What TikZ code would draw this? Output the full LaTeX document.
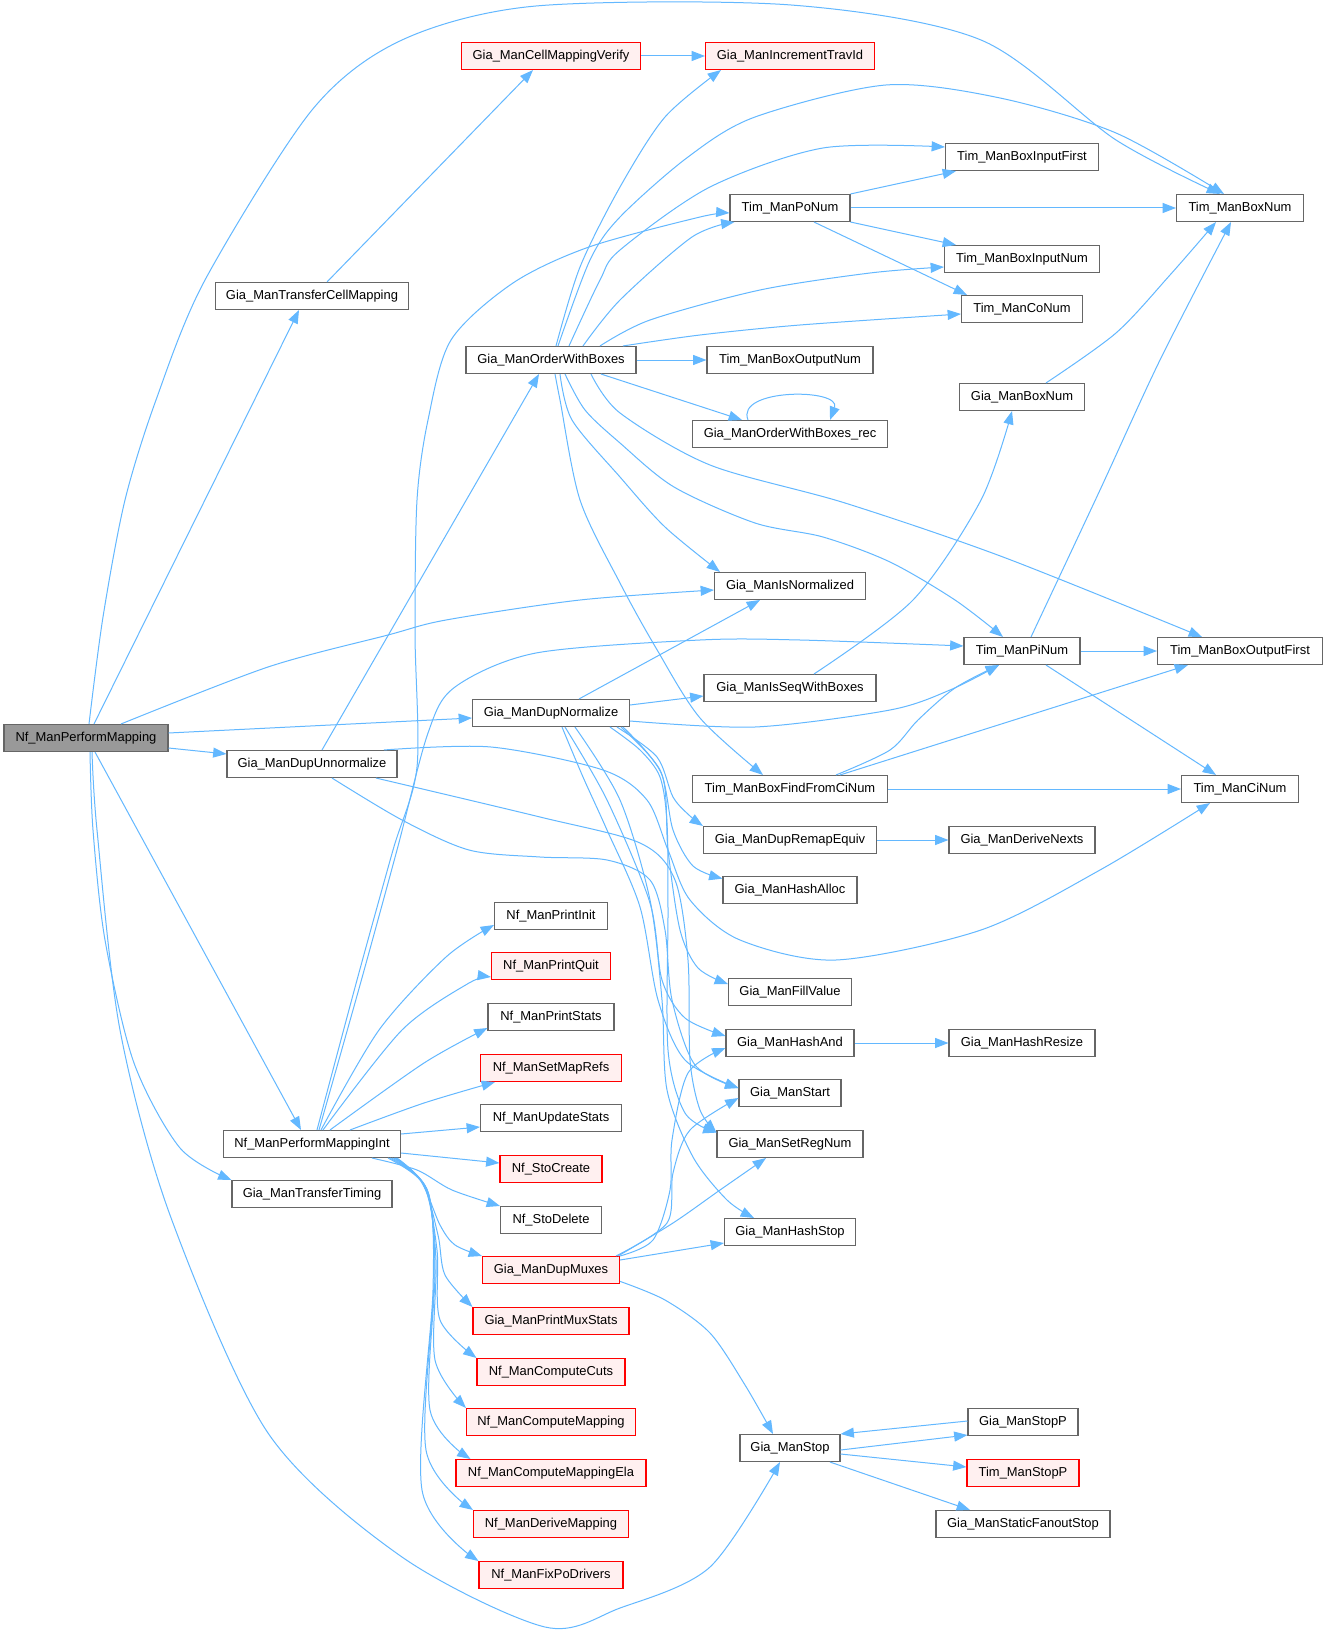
\documentclass[tikz,border=0pt]{standalone}
\usepackage{fontspec}
\setmainfont{Liberation Sans}
\usetikzlibrary{arrows.meta}
\newcommand{\dxfont}{\fontsize{9.7pt}{11pt}\selectfont}
\definecolor{edgec}{HTML}{63B8FF}
\definecolor{bordc}{HTML}{666666}
\definecolor{redfill}{HTML}{FFF0F0}
\definecolor{redbord}{HTML}{FF0000}
\definecolor{rootfill}{HTML}{999999}
\tikzset{
  fn/.style={draw=bordc, fill=white, line width=0.8pt, minimum height=27*0.75pt, inner sep=0pt, font=\dxfont, text=black},
  rn/.style={fn, draw=redbord, fill=redfill},
  rootn/.style={fn, fill=rootfill},
  wd/.style={minimum width=#1*0.75pt},
  e/.style={draw=edgec, line width=0.75pt, -{Triangle[length=10pt,width=7.5pt]}},
}
\begin{document}
\begin{tikzpicture}[x=0.75pt,y=-0.75pt]
\useasboundingbox[fill=white] (0,0) rectangle (1327,1633);

% ---------- nodes ----------
\node[rootn, wd=164] (root) at (86,738) {Nf\_ManPerformMapping};
\node[fn, wd=193] (tcm) at (312,296) {Gia\_ManTransferCellMapping};
\node[rn, wd=179] (cmv) at (551,56) {Gia\_ManCellMappingVerify};
\node[rn, wd=169] (itid) at (790,56) {Gia\_ManIncrementTravId};
\node[fn, wd=170] (owb) at (551,360) {Gia\_ManOrderWithBoxes};
\node[fn, wd=153] (bif) at (1022,157) {Tim\_ManBoxInputFirst};
\node[fn, wd=120] (pon) at (790,208) {Tim\_ManPoNum};
\node[fn, wd=127] (tbn) at (1240,208) {Tim\_ManBoxNum};
\node[fn, wd=155] (bin) at (1022,259) {Tim\_ManBoxInputNum};
\node[fn, wd=121] (con) at (1022,309) {Tim\_ManCoNum};
\node[fn, wd=166] (bon) at (790,360) {Tim\_ManBoxOutputNum};
\node[fn, wd=125] (gbn) at (1022,397) {Gia\_ManBoxNum};
\node[fn, wd=195] (owbr) at (790,434) {Gia\_ManOrderWithBoxes\_rec};
\node[fn, wd=151] (isn) at (790,586) {Gia\_ManIsNormalized};
\node[fn, wd=116] (pin) at (1022,651) {Tim\_ManPiNum};
\node[fn, wd=165] (bof) at (1240,651) {Tim\_ManBoxOutputFirst};
\node[fn, wd=157] (gdn) at (551,713) {Gia\_ManDupNormalize};
\node[fn, wd=172] (isq) at (790,688) {Gia\_ManIsSeqWithBoxes};
\node[fn, wd=170] (gdu) at (312,764) {Gia\_ManDupUnnormalize};
\node[fn, wd=195] (ffc) at (790,789) {Tim\_ManBoxFindFromCiNum};
\node[fn, wd=117] (cin) at (1240,789) {Tim\_ManCiNum};
\node[fn, wd=173] (rme) at (790,840) {Gia\_ManDupRemapEquiv};
\node[fn, wd=146] (dnx) at (1022,840) {Gia\_ManDeriveNexts};
\node[fn, wd=134] (hal) at (790,890) {Gia\_ManHashAlloc};
\node[fn, wd=113] (pri) at (551,916) {Nf\_ManPrintInit};
\node[rn, wd=119] (prq) at (551,966) {Nf\_ManPrintQuit};
\node[fn, wd=123] (fil) at (790,992) {Gia\_ManFillValue};
\node[fn, wd=126] (prs) at (551,1017) {Nf\_ManPrintStats};
\node[fn, wd=128] (hand) at (790,1043) {Gia\_ManHashAnd};
\node[fn, wd=146] (hrs) at (1022,1043) {Gia\_ManHashResize};
\node[rn, wd=141] (smr) at (551,1068) {Nf\_ManSetMapRefs};
\node[fn, wd=102] (gst) at (790,1093) {Gia\_ManStart};
\node[fn, wd=141] (ups) at (551,1118) {Nf\_ManUpdateStats};
\node[fn, wd=177] (npmi) at (312,1144) {Nf\_ManPerformMappingInt};
\node[fn, wd=146] (srn) at (790,1144) {Gia\_ManSetRegNum};
\node[rn, wd=102] (stc) at (551,1169) {Nf\_StoCreate};
\node[fn, wd=160] (ttm) at (312,1194) {Gia\_ManTransferTiming};
\node[fn, wd=101] (std) at (551,1220) {Nf\_StoDelete};
\node[fn, wd=131] (hst) at (790,1232) {Gia\_ManHashStop};
\node[rn, wd=137] (gdm) at (551,1270) {Gia\_ManDupMuxes};
\node[rn, wd=156] (pms) at (551,1321) {Gia\_ManPrintMuxStats};
\node[rn, wd=148] (ccu) at (551,1372) {Nf\_ManComputeCuts};
\node[rn, wd=169] (cmp) at (551,1422) {Nf\_ManComputeMapping};
\node[fn, wd=110] (gsp) at (1023,1422) {Gia\_ManStopP};
\node[fn, wd=100] (gstop) at (790,1448) {Gia\_ManStop};
\node[rn, wd=190] (cme) at (551,1473) {Nf\_ManComputeMappingEla};
\node[rn, wd=112] (tsp) at (1023,1473) {Tim\_ManStopP};
\node[rn, wd=155] (dmp) at (551,1524) {Nf\_ManDeriveMapping};
\node[fn, wd=174] (sfs) at (1023,1524) {Gia\_ManStaticFanoutStop};
\node[rn, wd=144] (fpd) at (551,1575) {Nf\_ManFixPoDrivers};

% ---------- edges from Nf_ManPerformMapping ----------
\draw[e] plot[smooth] coordinates {([xshift=2.25pt]root.north) (103,617) (125,500) (156,400) (205,280) (312,110) (402,40) (536,6) (791,5) (981,40) (1116,140) ([xshift=-15pt]tbn.north)};
\draw[e] ([xshift=6pt]root.north) -- ([xshift=-9.75pt]tcm.south);
\draw[e] plot[smooth] coordinates {([xshift=26.25pt]root.north) (268,667) (388,635) (446,620) (580,600) ([yshift=-3pt]isn.west)};
\draw[e] ([yshift=3.75pt]root.east) -- ([yshift=-3.75pt]gdn.west);
\draw[e] ([yshift=-7.5pt]root.east) -- ([yshift=-3pt]gdu.north west);
\draw[e] ([xshift=6.75pt]root.south) -- ([xshift=-8.25pt]npmi.north);
\draw[e] plot[smooth] coordinates {([xshift=3pt]root.south) (93,830) (105,940) (134,1063) (180,1148) (ttm.north west)};
\draw[e] plot[smooth] coordinates {([xshift=4.5pt]root.south) (97,830) (120,1030) (170,1215) (268,1433) (402,1557) (545,1627) (620,1608) (710,1567) ([xshift=-7.5pt]gstop.south)};

% ---------- cell mapping ----------
\draw[e] ([xshift=11.25pt]tcm.north) -- ([xshift=-13.5pt]cmv.south);
\draw[e] (cmv.east) -- (itid.west);

% ---------- Gia_ManOrderWithBoxes ----------
\draw[e] plot[smooth] coordinates {([xshift=3.75pt]owb.north) (580,267) (620,187) (665,117) ([xshift=-51.75pt]itid.south)};
\draw[e] plot[smooth] coordinates {([xshift=5.25pt]owb.north) (590,260) (620,217) (688,157) (755,117) (886,85) (1000,98) (1116,133) ([xshift=-12pt]tbn.north)};
\draw[e] plot[smooth] coordinates {([xshift=13.5pt]owb.north) (600,280) (620,250) (710,187) (823,148) ([yshift=7.5pt]bif.west)};
\draw[e] plot[smooth] coordinates {([xshift=24pt]owb.north) (620,300) (692,237) ([xshift=3.75pt]pon.south west)};
\draw[e] plot[smooth] coordinates {([xshift=36.75pt]owb.north) (650,320) (760,290) (870,273) ([yshift=-6pt]bin.west)};
\draw[e] plot[smooth] coordinates {([xshift=54pt]owb.north) (700,335) (800,325) ([yshift=-3.75pt]con.west)};
\draw[e] (owb.east) -- (bon.west);
\draw[e] ([xshift=37.5pt]owb.south) -- ([xshift=-36pt]owbr.north);
\draw[e] ([xshift=-31.5pt]owbr.north) .. controls (735,388) and (842,388) .. ([xshift=30pt]owbr.north);
\draw[e] plot[smooth] coordinates {([xshift=6.75pt]owb.south) (572,420) (620,477) (665,527) ([xshift=-52.5pt]isn.north)};
\draw[e] plot[smooth] coordinates {([xshift=10.5pt]owb.south) (585,410) (620,443) (674,487) (755,523) (823,537) (890,562) (955,600) ([xshift=-14.25pt]pin.north)};
\draw[e] plot[smooth] coordinates {([xshift=30pt]owb.south) (620,413) (710,465) (845,503) (1003,557) ([xshift=-28.5pt]bof.north)};
\draw[e] plot[smooth] coordinates {([xshift=3pt]owb.south) (560,400) (580,500) (620,583) (656,648) (700,718) ([xshift=-20.25pt]ffc.north)};

% ---------- Tim_ManPoNum ----------
\draw[e] (pon.north east) -- ([xshift=-49.5pt]bif.south);
\draw[e] (pon.east) -- (tbn.west);
\draw[e] (pon.south east) -- ([xshift=-49.5pt]bin.north);
\draw[e] plot[smooth] coordinates {([xshift=18pt]pon.south) (900,263) ([xshift=-41.25pt]con.north)};

% ---------- Gia_ManBoxNum, Tim_ManPiNum, Gia_ManIsSeqWithBoxes ----------
\draw[e] plot[smooth] coordinates {([xshift=18pt]gbn.north) (1116,333) (1170,275) ([xshift=-18pt]tbn.south)};
\draw[e] plot[smooth] coordinates {([xshift=6.75pt]pin.north) (1100,490) (1160,360) ([xshift=-6.75pt]tbn.south)};
\draw[e] (pin.east) -- (bof.west);
\draw[e] ([xshift=18pt]pin.south) -- ([xshift=-18pt]cin.north);
\draw[e] plot[smooth] coordinates {([xshift=18pt]isq.north) (913,600) (981,500) ([xshift=-7.5pt]gbn.south)};

% ---------- Tim_ManBoxFindFromCiNum ----------
\draw[e] plot[smooth] coordinates {([xshift=34.5pt]ffc.north) (890,750) (918,720) (955,688) ([xshift=-17.25pt]pin.south)};
\draw[e] ([xshift=37.5pt]ffc.north) -- ([xshift=-39pt]bof.south);
\draw[e] (ffc.east) -- (cin.west);

\draw[e] (rme.east) -- (dnx.west);
\draw[e] (hand.east) -- (hrs.west);

% ---------- Gia_ManDupNormalize ----------
\draw[e] ([xshift=21pt]gdn.north) -- ([xshift=-22.5pt]isn.south);
\draw[e] ([yshift=6pt]gdn.east) -- ([yshift=-6pt]isq.west);
\draw[e] plot[smooth] coordinates {([yshift=-6pt]gdn.east) (755,727) (890,710) (950,690) ([xshift=-17.25pt]pin.south)};
\draw[e] plot[smooth] coordinates {([xshift=49.5pt]gdn.south) (657,757) (673,797) (690,816) (rme.north west)};
\draw[e] plot[smooth] coordinates {([xshift=52.5pt]gdn.south) (660,770) (673,830) (693,866) ([yshift=-2pt]hal.north west)};
\draw[e] plot[smooth] coordinates {([xshift=54pt]gdn.south) (662,775) (668,850) (680,930) (698,968) ([yshift=6pt]fil.west)};
\draw[e] plot[smooth] coordinates {([xshift=10.5pt]gdn.south) (607,800) (650,903) (662,980) (685,1018) ([yshift=5.25pt]hand.west)};
\draw[e] plot[smooth] coordinates {([xshift=8.25pt]gdn.south) (583,777) (607,830) (640,907) (658,1000) (685,1060) ([yshift=3.75pt]gst.west)};
\draw[e] plot[smooth] coordinates {([xshift=44.25pt]gdn.south) (640,750) (660,777) (667,823) (668,910) (668,1050) (685,1113) ([yshift=-2pt]srn.north west)};
\draw[e] plot[smooth] coordinates {([xshift=18pt]gdn.south) (620,800) (650,900) (662,1000) (667,1090) (693,1157) (727,1200) ([xshift=-27pt]hst.north)};

% ---------- Gia_ManDupUnnormalize ----------
\draw[e] ([xshift=7.5pt]gdu.north) -- ([xshift=-9pt]owb.south);
\draw[e] plot[smooth] coordinates {([xshift=54pt]gdu.north) (491,747) (603,770) (647,800) (668,850) (690,900) (740,940) (836,960) (981,930) (1100,870) ([xshift=-22.5pt]cin.south)};
\draw[e] plot[smooth] coordinates {([xshift=48pt]gdu.south) (540,817) (640,843) (675,880) (688,960) (690,1060) (700,1110) ([yshift=-2pt]srn.north west)};
\draw[e] plot[smooth] coordinates {([xshift=15pt]gdu.south) (402,820) (469,850) (540,857) (607,860) (650,880) (665,930) (672,1000) (695,1065) ([yshift=3.75pt]gst.west)};

% ---------- Nf_ManPerformMappingInt ----------
\draw[e] plot[smooth] coordinates {([xshift=3.75pt]npmi.north) (357,980) (393,850) (417,767) (415,633) (417,500) (428,420) (451,340) (513,283) (589,247) (700,217) ([yshift=-3.75pt]pon.west)};
\draw[e] plot[smooth] coordinates {([xshift=5.25pt]npmi.north) (360,985) (397,850) (428,733) (455,687) (536,653) (700,640) (800,640) ([yshift=3.75pt]pin.west)};
\draw[e] plot[smooth] coordinates {([xshift=6.75pt]npmi.north) (379,1030) (446,957) ([yshift=-6.75pt]pri.west)};
\draw[e] plot[smooth] coordinates {([xshift=8.25pt]npmi.north) (402,1030) (469,983) ([yshift=-8.25pt]prq.west)};
\draw[e] plot[smooth] coordinates {([xshift=13.5pt]npmi.north) (424,1063) ([yshift=-8.25pt]prs.west)};
\draw[e] plot[smooth] coordinates {([xshift=28.5pt]npmi.north) (424,1103) ([xshift=11.25pt]smr.south west)};
\draw[e] ([yshift=7.5pt]npmi.east) -- ([yshift=-6.75pt]ups.west);
\draw[e] ([yshift=-6.75pt]npmi.east) -- ([yshift=4.5pt]stc.west);
\draw[e] plot[smooth] coordinates {([xshift=45pt]npmi.south) (417,1170) (452,1190) (std.north west)};
\draw[e] plot[smooth] coordinates {([xshift=57pt]npmi.south) (420,1180) (440,1225) (455,1245) (gdm.north west)};
\draw[e] plot[smooth] coordinates {([xshift=58.5pt]npmi.south) (422,1182) (438,1235) (445,1275) (pms.north west)};
\draw[e] plot[smooth] coordinates {([xshift=60pt]npmi.south) (424,1185) (437,1250) (440,1320) (ccu.north west)};
\draw[e] plot[smooth] coordinates {([xshift=61.5pt]npmi.south) (426,1188) (436,1260) (435,1360) (cmp.north west)};
\draw[e] plot[smooth] coordinates {([xshift=62.25pt]npmi.south) (427,1190) (435,1270) (430,1410) ([xshift=11.25pt]cme.north west)};
\draw[e] plot[smooth] coordinates {([xshift=63pt]npmi.south) (428,1192) (434,1280) (426,1450) (dmp.north west)};
\draw[e] plot[smooth] coordinates {([xshift=63.75pt]npmi.south) (429,1195) (433,1290) (422,1490) (fpd.north west)};

% ---------- Gia_ManDupMuxes ----------
\draw[e] plot[smooth] coordinates {(gdm.north east) (653,1240) (670,1190) (672,1140) (688,1073) ([yshift=-3.75pt]hand.west)};
\draw[e] plot[smooth] coordinates {([xshift=-3pt]gdm.north east) (667,1223) (673,1173) (690,1130) ([yshift=-3.75pt]gst.west)};
\draw[e] plot[smooth] coordinates {([xshift=-1.5pt]gdm.north east) (673,1223) (720,1190) ([xshift=-18pt]srn.south)};
\draw[e] ([yshift=7.5pt]gdm.east) -- ([yshift=-8.25pt]hst.west);
\draw[e] plot[smooth] coordinates {([yshift=2pt]gdm.south east) (665,1300) (710,1333) (745,1385) ([xshift=-12.75pt]gstop.north)};

% ---------- Gia_ManStop ----------
\draw[e] ([yshift=-1.5pt]gstop.east) -- ([yshift=-9.75pt]gsp.west);
\draw[e] ([yshift=-4.5pt]gstop.east) -- ([yshift=4.5pt]tsp.west);
\draw[e] ([xshift=30pt]gstop.south) -- ([xshift=-39.75pt]sfs.north);
\draw[e] ([yshift=0.75pt]gsp.west) -- (gstop.north east);
\end{tikzpicture}
\end{document}
